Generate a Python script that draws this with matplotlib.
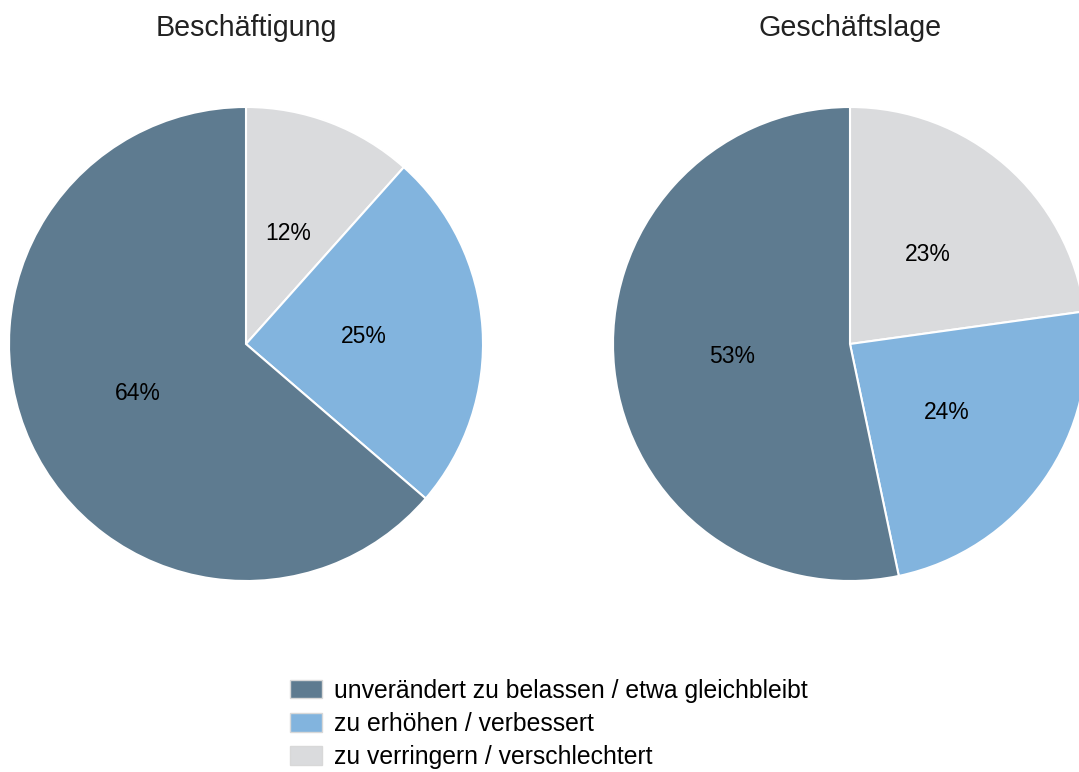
import matplotlib
matplotlib.use('Agg')
import matplotlib.pyplot as plt
from matplotlib.patches import Patch

plt.rcParams['font.family'] = ['Liberation Sans', 'DejaVu Sans']

# shares (clockwise from the top)
labels = ['zu verringern / verschlechtert', 'zu erhöhen / verbessert',
          'unverändert zu belassen / etwa gleichbleibt']
beschaeftigung = [11.6, 24.7, 63.7]
geschaeftslage = [22.8, 23.9, 53.3]
titles = ['Beschäftigung', 'Geschäftslage']
colors = ['#dadbdd', '#82b4de', '#5e7b90']

W, H = 1079, 772
fig = plt.figure(figsize=(W / 100, H / 100), dpi=100)

# pies: centre x, centre y (from top), radius in pixels
r = 237
centres = [(246, 344), (850, 344)]

for (cx, cy), vals, title in zip(centres, [beschaeftigung, geschaeftslage], titles):
    ax = fig.add_axes([(cx - r) / W, (H - cy - r) / H, 2 * r / W, 2 * r / H])
    ax.pie(vals, colors=colors, startangle=90, counterclock=False,
           autopct='%1.0f%%', pctdistance=0.5,
           wedgeprops=dict(edgecolor='white', linewidth=1.5),
           textprops=dict(fontsize=16.5, color='black'))
    ax.set_xlim(-1, 1)
    ax.set_ylim(-1, 1)
    ax.set_aspect('equal')
    ax.set_axis_off()
    fig.text(cx / W, 1 - 28 / H, title, ha='center', va='center',
             fontsize=20.6, color='#222222')

# legend, order as in the picture
order = [2, 1, 0]
handles = [Patch(facecolor=colors[i], edgecolor='#d8d8d8', linewidth=1) for i in order]
fig.legend(handles, [labels[i] for i in order], loc='center left',
           bbox_to_anchor=(290 / W, 1 - 724 / H), frameon=False,
           fontsize=17.8, handlelength=1.3, handleheight=0.8,
           handletextpad=0.5, labelspacing=0.38, borderpad=0, borderaxespad=0)

fig.savefig('out.png', dpi=100)
